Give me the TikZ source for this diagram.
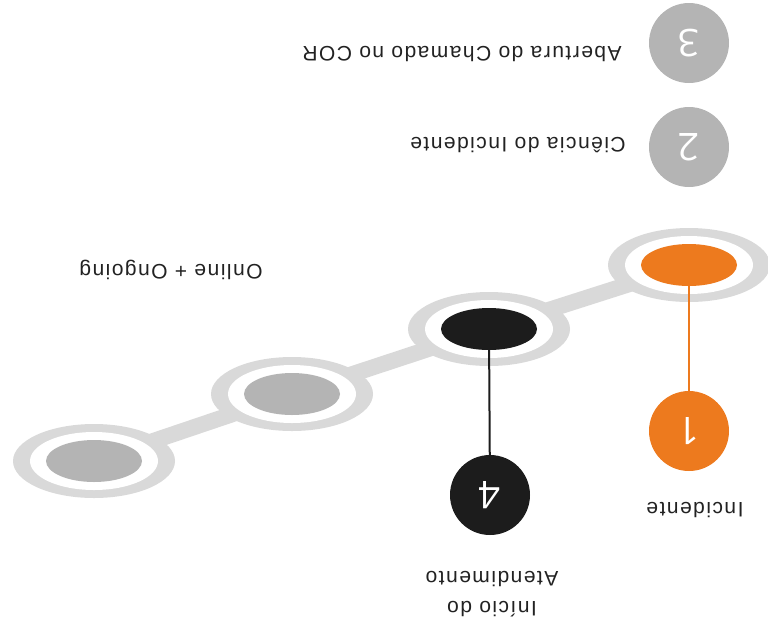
\documentclass[tikz,border=0pt]{standalone}
\usepackage{fontspec}
\usetikzlibrary{shapes.geometric}
\newfontfamily\lblfont{Liberation Sans}[LetterSpace=7]
\newfontfamily\numfont{Open Sans}
\definecolor{ringgray}{RGB}{217,217,217}
\definecolor{dotgray}{RGB}{180,180,180}
\definecolor{stageorange}{RGB}{237,122,30}
\definecolor{stageblack}{RGB}{28,28,28}
\definecolor{txt}{RGB}{34,34,34}
\tikzset{
  ringouter/.style={ellipse, fill=ringgray, minimum width=162pt, minimum height=74pt, inner sep=0pt},
  ringgap/.style={ellipse, fill=white, minimum width=128pt, minimum height=58pt, inner sep=0pt},
  stagedot/.style={ellipse, minimum width=96pt, minimum height=42pt, inner sep=0pt},
  track/.style={line width=16pt, ringgray},
  badge/.style={circle, minimum size=80pt, inner sep=0pt, text=white,
    font=\numfont\fontsize{38}{38}\selectfont, rotate=180},
  caption/.style={text=txt, font=\lblfont\fontsize{21}{30}\selectfont, rotate=180, inner sep=0pt},
  stem/.style={line width=2pt}
}
\begin{document}
\begin{tikzpicture}[x=1pt, y=-1pt]
\useasboundingbox (0,0) rectangle (768,630);

% stops along the track
\coordinate (s1) at (689,265);
\coordinate (s2) at (489,329);
\coordinate (s3) at (292,394);
\coordinate (s4) at (94,461);

\draw[track] (s1) -- (s2) -- (s3) -- (s4);

\foreach \s in {1,2,3,4} {
  \node[ringouter] (o\s) at (s\s) {};
  \node[ringgap] (w\s) at (s\s) {};
}
\node[stagedot, fill=stageorange] (d1) at (s1) {};
\node[stagedot, fill=stageblack] (d2) at (s2) {};
\node[stagedot, fill=dotgray] (d3) at (s3) {};
\node[stagedot, fill=dotgray] (d4) at (s4) {};

% numbered badges
\node[badge, fill=stageorange] (b1) at (689,431) {1};
\node[badge, fill=stageblack] (b4) at (490,495) {4};
\node[badge, fill=dotgray] (b2) at (689,147) {2};
\node[badge, fill=dotgray] (b3) at (689,43) {3};

\draw[stem, stageorange] (d1) -- (b1);
\draw[stem, stageblack] (d2) -- (b4);

% captions
\node[caption] (c3) at (462,54) {Abertura do Chamado no COR};
\node[caption] (c2) at (518,145) {Ciência do Incidente};
\node[caption] (c0) at (171,270) {Online + Ongoing};
\node[caption] (c1) at (695,510) {Incidente};
\node[caption, align=center] (c4) at (492,594) {Início do\\Atendimento};
\end{tikzpicture}
\end{document}
